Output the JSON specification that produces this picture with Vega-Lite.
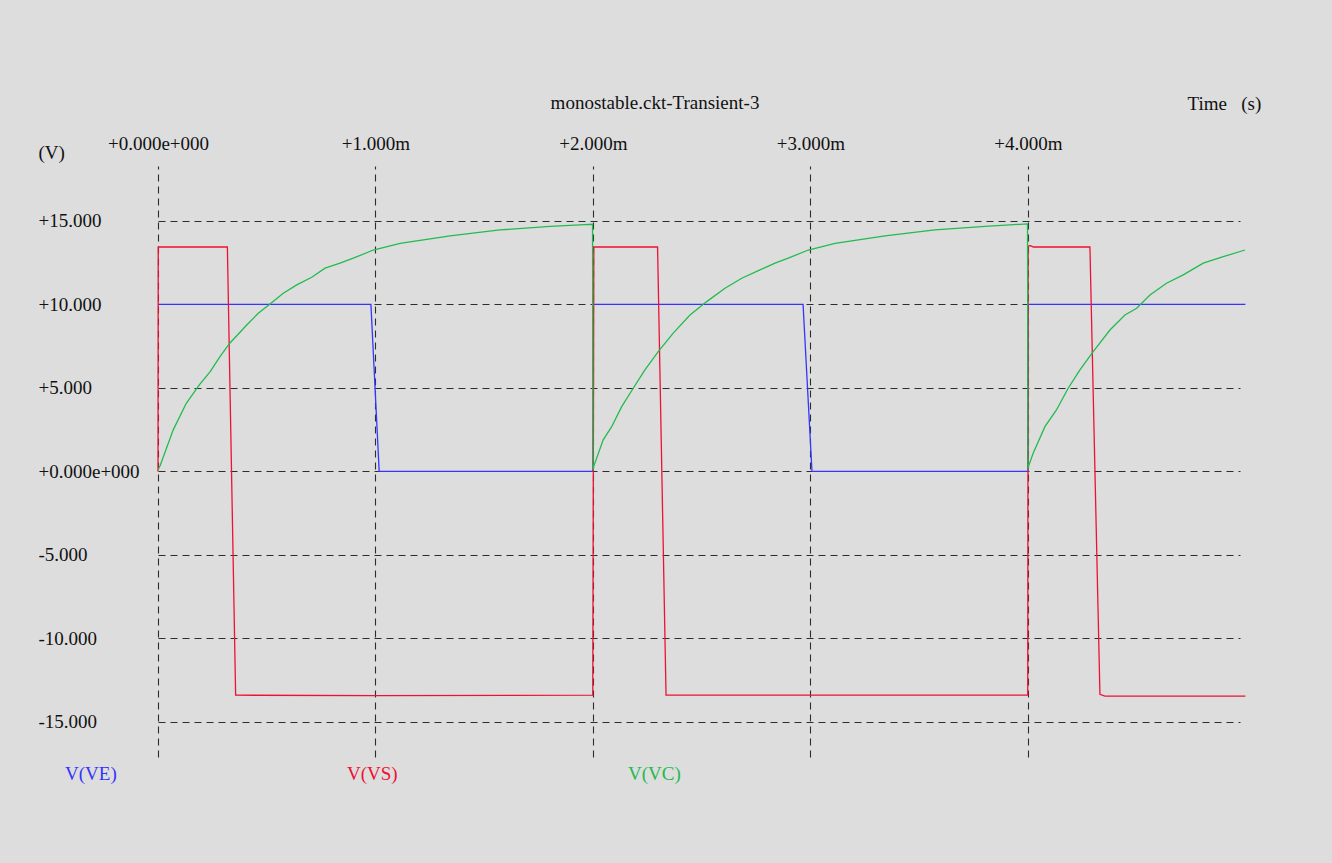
{
  "$schema": "https://vega.github.io/schema/vega-lite/v6.json",
  "autosize": {"type": "none"},
  "width": 1082,
  "height": 591,
  "padding": {"left": 158, "top": 166, "right": 92, "bottom": 106},
  "background": "#dddddd",
  "title": {
    "text": "monostable.ckt-Transient-3",
    "anchor": "middle",
    "dx": -44,
    "offset": -19,
    "font": "Liberation Serif",
    "fontSize": 19,
    "fontWeight": "normal",
    "color": "#111111"
  },
  "config": {
    "view": {"stroke": null},
    "axis": {
      "domain": false,
      "ticks": false,
      "tickSize": 0,
      "grid": true,
      "gridColor": "#1a1a1a",
      "gridDash": [7, 5],
      "gridWidth": 1.1,
      "gridOpacity": 0.9,
      "labelFont": "Liberation Serif",
      "labelFontSize": 19,
      "labelColor": "#111111",
      "titleFont": "Liberation Serif",
      "titleFontSize": 19,
      "titleFontWeight": "normal",
      "titleColor": "#111111",
      "zindex": 1
    }
  },
  "data": {
    "values": [
      {"s": "V(VE)", "i": 1, "t": 0, "v": 10},
      {"s": "V(VE)", "i": 2, "t": 0.979, "v": 10},
      {"s": "V(VE)", "i": 3, "t": 1.017, "v": 0},
      {"s": "V(VE)", "i": 4, "t": 2.0, "v": 0},
      {"s": "V(VE)", "i": 5, "t": 2.001, "v": 10},
      {"s": "V(VE)", "i": 6, "t": 2.966, "v": 10},
      {"s": "V(VE)", "i": 7, "t": 3.007, "v": 0},
      {"s": "V(VE)", "i": 8, "t": 4.0, "v": 0},
      {"s": "V(VE)", "i": 9, "t": 4.001, "v": 10},
      {"s": "V(VE)", "i": 10, "t": 5.0, "v": 10},

      {"s": "V(VS)", "i": 1, "t": 0, "v": 0},
      {"s": "V(VS)", "i": 2, "t": 0.001, "v": 13.44},
      {"s": "V(VS)", "i": 3, "t": 0.319, "v": 13.44},
      {"s": "V(VS)", "i": 4, "t": 0.357, "v": -13.4},
      {"s": "V(VS)", "i": 5, "t": 1.0, "v": -13.42},
      {"s": "V(VS)", "i": 6, "t": 1.999, "v": -13.4},
      {"s": "V(VS)", "i": 7, "t": 2.004, "v": 13.44},
      {"s": "V(VS)", "i": 8, "t": 2.297, "v": 13.44},
      {"s": "V(VS)", "i": 9, "t": 2.336, "v": -13.4},
      {"s": "V(VS)", "i": 10, "t": 3.999, "v": -13.4},
      {"s": "V(VS)", "i": 11, "t": 4.001, "v": 13.5},
      {"s": "V(VS)", "i": 12, "t": 4.012, "v": 13.52},
      {"s": "V(VS)", "i": 13, "t": 4.025, "v": 13.44},
      {"s": "V(VS)", "i": 14, "t": 4.285, "v": 13.44},
      {"s": "V(VS)", "i": 15, "t": 4.331, "v": -13.35},
      {"s": "V(VS)", "i": 16, "t": 4.354, "v": -13.45},
      {"s": "V(VS)", "i": 17, "t": 5.0, "v": -13.45},

      {"s": "V(VC)", "i": 1, "t": 0, "v": 0.1},
      {"s": "V(VC)", "i": 2, "t": 0.01, "v": 0.35},
      {"s": "V(VC)", "i": 3, "t": 0.07, "v": 2.49},
      {"s": "V(VC)", "i": 4, "t": 0.13, "v": 4.08},
      {"s": "V(VC)", "i": 5, "t": 0.19, "v": 5.18},
      {"s": "V(VC)", "i": 6, "t": 0.24, "v": 5.98},
      {"s": "V(VC)", "i": 7, "t": 0.285, "v": 6.87},
      {"s": "V(VC)", "i": 8, "t": 0.33, "v": 7.68},
      {"s": "V(VC)", "i": 9, "t": 0.408, "v": 8.77},
      {"s": "V(VC)", "i": 10, "t": 0.461, "v": 9.47},
      {"s": "V(VC)", "i": 11, "t": 0.515, "v": 10.03},
      {"s": "V(VC)", "i": 12, "t": 0.576, "v": 10.67},
      {"s": "V(VC)", "i": 13, "t": 0.638, "v": 11.17},
      {"s": "V(VC)", "i": 14, "t": 0.707, "v": 11.63},
      {"s": "V(VC)", "i": 15, "t": 0.768, "v": 12.17},
      {"s": "V(VC)", "i": 16, "t": 0.837, "v": 12.47},
      {"s": "V(VC)", "i": 17, "t": 0.898, "v": 12.77},
      {"s": "V(VC)", "i": 18, "t": 0.99, "v": 13.26},
      {"s": "V(VC)", "i": 19, "t": 1.113, "v": 13.66},
      {"s": "V(VC)", "i": 20, "t": 1.343, "v": 14.1},
      {"s": "V(VC)", "i": 21, "t": 1.572, "v": 14.46},
      {"s": "V(VC)", "i": 22, "t": 1.803, "v": 14.67},
      {"s": "V(VC)", "i": 23, "t": 1.963, "v": 14.78},
      {"s": "V(VC)", "i": 24, "t": 1.998, "v": 14.8},
      {"s": "V(VC)", "i": 25, "t": 2.0, "v": 0.1},
      {"s": "V(VC)", "i": 26, "t": 2.003, "v": 0.29},
      {"s": "V(VC)", "i": 27, "t": 2.047, "v": 1.89},
      {"s": "V(VC)", "i": 28, "t": 2.086, "v": 2.68},
      {"s": "V(VC)", "i": 29, "t": 2.132, "v": 3.88},
      {"s": "V(VC)", "i": 30, "t": 2.185, "v": 4.98},
      {"s": "V(VC)", "i": 31, "t": 2.239, "v": 6.08},
      {"s": "V(VC)", "i": 32, "t": 2.3, "v": 7.17},
      {"s": "V(VC)", "i": 33, "t": 2.369, "v": 8.28},
      {"s": "V(VC)", "i": 34, "t": 2.446, "v": 9.37},
      {"s": "V(VC)", "i": 35, "t": 2.523, "v": 10.17},
      {"s": "V(VC)", "i": 36, "t": 2.607, "v": 10.97},
      {"s": "V(VC)", "i": 37, "t": 2.684, "v": 11.57},
      {"s": "V(VC)", "i": 38, "t": 2.768, "v": 12.07},
      {"s": "V(VC)", "i": 39, "t": 2.837, "v": 12.47},
      {"s": "V(VC)", "i": 40, "t": 2.898, "v": 12.77},
      {"s": "V(VC)", "i": 41, "t": 2.99, "v": 13.26},
      {"s": "V(VC)", "i": 42, "t": 3.113, "v": 13.66},
      {"s": "V(VC)", "i": 43, "t": 3.343, "v": 14.1},
      {"s": "V(VC)", "i": 44, "t": 3.572, "v": 14.46},
      {"s": "V(VC)", "i": 45, "t": 3.803, "v": 14.67},
      {"s": "V(VC)", "i": 46, "t": 3.963, "v": 14.8},
      {"s": "V(VC)", "i": 47, "t": 3.998, "v": 14.82},
      {"s": "V(VC)", "i": 48, "t": 4.0, "v": 0.1},
      {"s": "V(VC)", "i": 49, "t": 4.002, "v": 0.29},
      {"s": "V(VC)", "i": 50, "t": 4.024, "v": 1.09},
      {"s": "V(VC)", "i": 51, "t": 4.078, "v": 2.68},
      {"s": "V(VC)", "i": 52, "t": 4.131, "v": 3.68},
      {"s": "V(VC)", "i": 53, "t": 4.185, "v": 4.98},
      {"s": "V(VC)", "i": 54, "t": 4.239, "v": 6.08},
      {"s": "V(VC)", "i": 55, "t": 4.3, "v": 7.17},
      {"s": "V(VC)", "i": 56, "t": 4.377, "v": 8.47},
      {"s": "V(VC)", "i": 57, "t": 4.446, "v": 9.37},
      {"s": "V(VC)", "i": 58, "t": 4.5, "v": 9.77},
      {"s": "V(VC)", "i": 59, "t": 4.561, "v": 10.57},
      {"s": "V(VC)", "i": 60, "t": 4.637, "v": 11.27},
      {"s": "V(VC)", "i": 61, "t": 4.714, "v": 11.77},
      {"s": "V(VC)", "i": 62, "t": 4.806, "v": 12.47},
      {"s": "V(VC)", "i": 63, "t": 4.898, "v": 12.86},
      {"s": "V(VC)", "i": 64, "t": 4.998, "v": 13.26}
    ]
  },
  "mark": {"type": "line", "strokeWidth": 1.3, "clip": false},
  "encoding": {
    "x": {
      "field": "t",
      "type": "quantitative",
      "scale": {"domain": [0, 4.975], "nice": false, "zero": false},
      "axis": {
        "orient": "top",
        "values": [0, 1, 2, 3, 4],
        "labelExpr": "datum.value == 0 ? '+0.000e+000' : '+' + format(datum.value, '.3f') + 'm'",
        "labelBaseline": "middle",
        "labelAlign": "center",
        "labelPadding": 23,
        "labelFlush": false,
        "labelOverlap": false,
        "title": "Time\u00a0\u00a0\u00a0(s)",
        "titleX": 1029,
        "titleY": -63,
        "titleAlign": "left",
        "titleBaseline": "middle",
        "titleAnchor": null
      }
    },
    "y": {
      "field": "v",
      "type": "quantitative",
      "scale": {"domain": [-17.1, 18.29], "nice": false, "zero": false},
      "axis": {
        "values": [-15, -10, -5, 0, 5, 10, 15],
        "labelExpr": "datum.value == 0 ? '+0.000e+000' : (datum.value > 0 ? '+' + format(datum.value, '.3f') : '-' + format(-datum.value, '.3f'))",
        "labelAlign": "left",
        "labelBaseline": "middle",
        "labelPadding": 120,
        "labelFlush": false,
        "labelOverlap": false,
        "title": "(V)",
        "titleAngle": 0,
        "titleX": -120,
        "titleY": -14,
        "titleAlign": "left",
        "titleBaseline": "middle"
      }
    },
    "color": {
      "field": "s",
      "type": "nominal",
      "scale": {
        "domain": ["V(VE)", "V(VS)", "V(VC)"],
        "range": ["#3535ff", "#ee1133", "#22bb4d"]
      },
      "legend": {
        "orient": "none",
        "direction": "horizontal",
        "legendX": -112,
        "legendY": 598,
        "title": null,
        "symbolSize": 0,
        "symbolOpacity": 0,
        "symbolStrokeWidth": 0,
        "labelOffset": 0,
        "columnPadding": 211,
        "labelFont": "Liberation Serif",
        "labelFontSize": 19,
        "labelBaseline": "middle",
        "encode": {
          "labels": {"update": {"fill": {"scale": "color", "field": "value"}}}
        }
      }
    },
    "order": {"field": "i", "type": "quantitative"}
  }
}
